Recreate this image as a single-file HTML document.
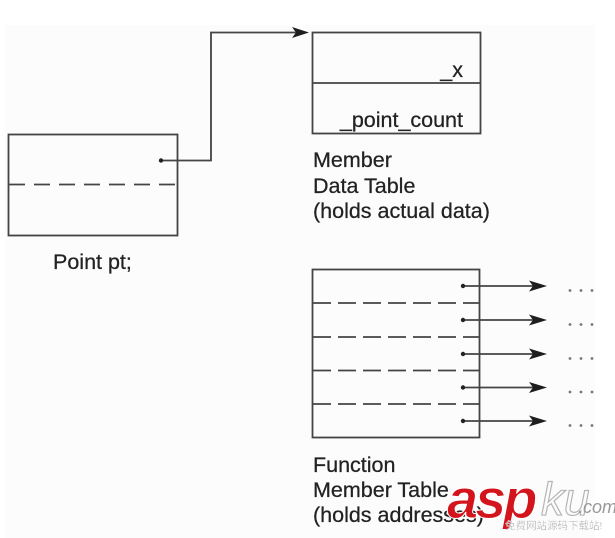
<!DOCTYPE html>
<html>
<head>
<meta charset="utf-8">
<style>
  html, body { margin: 0; padding: 0; background: #ffffff; }
  svg { display: block; }
  text { font-family: "Liberation Sans", Arial, sans-serif; }
</style>
</head>
<body>
<svg width="615" height="538" viewBox="0 0 615 538" xmlns="http://www.w3.org/2000/svg">
  <rect x="0" y="0" width="615" height="538" fill="#ffffff"/>
  <rect x="5" y="25" width="590" height="513" fill="#fcfcfc"/>

  <g stroke="#444444" stroke-width="1.8" fill="none">
    <!-- Point pt box -->
    <rect x="8.5" y="134.5" width="169" height="101"/>
    <line x1="9" y1="184.5" x2="177" y2="184.5" stroke-dasharray="16 9"/>

    <!-- connector -->
    <polyline points="161,160.5 211,160.5 211,32.5 296,32.5"/>

    <!-- Member data table -->
    <rect x="312.5" y="32.5" width="168" height="101"/>
    <line x1="312.5" y1="83" x2="480.5" y2="83"/>

    <!-- Function member table -->
    <rect x="312.5" y="269.5" width="167" height="168"/>
    <g stroke-dasharray="18 7">
      <line x1="313" y1="303" x2="479" y2="303"/>
      <line x1="313" y1="337" x2="479" y2="337"/>
      <line x1="313" y1="370.5" x2="479" y2="370.5"/>
      <line x1="313" y1="404" x2="479" y2="404"/>
    </g>

    <!-- function arrows -->
    <line x1="463" y1="286" x2="534" y2="286"/>
    <line x1="463" y1="320" x2="534" y2="320"/>
    <line x1="463" y1="354" x2="534" y2="354"/>
    <line x1="463" y1="387.5" x2="534" y2="387.5"/>
    <line x1="463" y1="421" x2="534" y2="421"/>
  </g>

  <!-- dots -->
  <g fill="#222">
    <circle cx="161" cy="160.5" r="2.2"/>
    <circle cx="463" cy="286" r="2.2"/>
    <circle cx="463" cy="320" r="2.2"/>
    <circle cx="463" cy="354" r="2.2"/>
    <circle cx="463" cy="387.5" r="2.2"/>
    <circle cx="463" cy="421" r="2.2"/>
  </g>

  <!-- arrowheads -->
  <g fill="#1e1e1e">
    <polygon points="309,32.5 292,27 296,32.5 292,38"/>
    <polygon points="547,286 529,280.5 533,286 529,291.5"/>
    <polygon points="547,320 529,314.5 533,320 529,325.5"/>
    <polygon points="547,354 529,348.5 533,354 529,359.5"/>
    <polygon points="547,387.5 529,382 533,387.5 529,393"/>
    <polygon points="547,421 529,415.5 533,421 529,426.5"/>
  </g>

  <!-- ellipses -->
  <g fill="#777">
    <circle cx="570" cy="290.5" r="1.4"/><circle cx="581" cy="290.5" r="1.4"/><circle cx="592" cy="290.5" r="1.4"/>
    <circle cx="570" cy="324.5" r="1.4"/><circle cx="581" cy="324.5" r="1.4"/><circle cx="592" cy="324.5" r="1.4"/>
    <circle cx="570" cy="358.5" r="1.4"/><circle cx="581" cy="358.5" r="1.4"/><circle cx="592" cy="358.5" r="1.4"/>
    <circle cx="570" cy="392" r="1.4"/><circle cx="581" cy="392" r="1.4"/><circle cx="592" cy="392" r="1.4"/>
    <circle cx="570" cy="425.5" r="1.4"/><circle cx="581" cy="425.5" r="1.4"/><circle cx="592" cy="425.5" r="1.4"/>
  </g>

  <!-- labels -->
  <g fill="#222222" font-size="21.5" stroke="#222222" stroke-width="0.25">
    <text x="463" y="77" text-anchor="end">_x</text>
    <text x="463" y="127" text-anchor="end">_point_count</text>
    <text x="53" y="269">Point pt;</text>
    <text x="313" y="167">Member</text>
    <text x="313" y="193">Data Table</text>
    <text x="313" y="218">(holds actual data)</text>
    <text x="313" y="472">Function</text>
    <text x="313" y="497">Member Table</text>
    <text x="313" y="522">(holds addresses)</text>
  </g>

  <!-- watermark -->
  <text x="447" y="518" font-size="56" font-weight="bold" font-style="italic" fill="#d4141c" stroke="#ffffff" stroke-width="1" letter-spacing="-3">asp</text>
  <text x="541" y="515" font-size="46" font-style="italic" fill="none" stroke="#b5b5b5" stroke-width="1.2">ku</text>
  <text x="578" y="513" font-size="18" font-style="italic" fill="#9a9a9a">.com</text>
  <text x="505" y="529" font-size="10.5" fill="#9a9a9a" stroke="#ffffff" stroke-width="0.3" style='font-family: "Liberation Sans", "Noto Sans CJK SC", sans-serif;'>免费网站源码下载站!</text>
</svg>
</body>
</html>
